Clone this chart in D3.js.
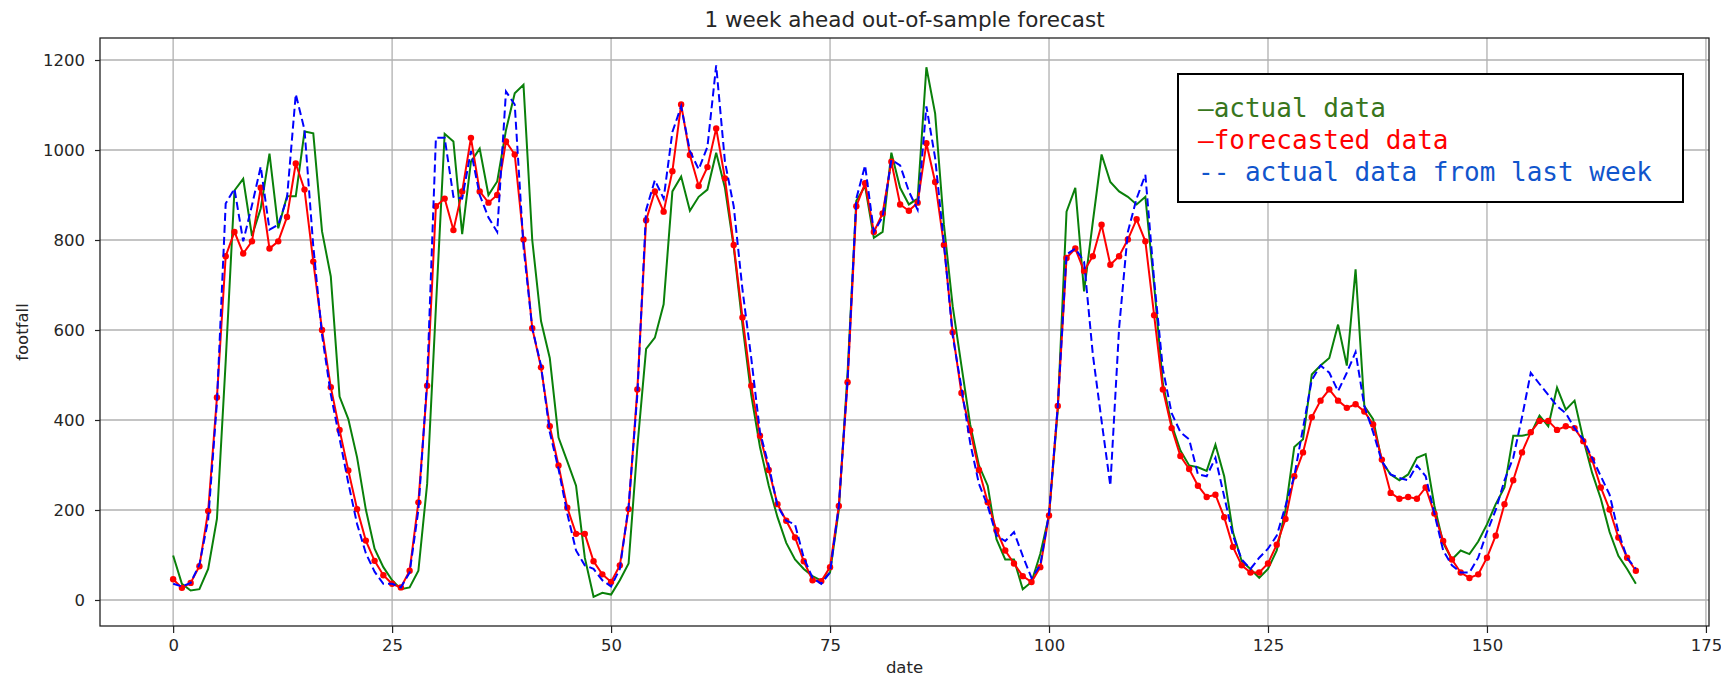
<!DOCTYPE html>
<html>
<head>
<meta charset="utf-8">
<script src="https://cdn.jsdelivr.net/npm/d3@7"></script>
<style>
  body { margin: 0; background: #fff; }
  text { font-family: "DejaVu Sans", sans-serif; }
</style>
</head>
<body>
<svg id="chart"></svg>
<script>
// Values, one per hour (0..167)
const actualData = [99, 36, 21, 24, 69, 180, 530, 910, 936, 809, 870, 992, 826, 897, 897, 1041, 1037, 819, 719, 452,
  402, 317, 201, 114, 73, 44, 24, 28, 65, 258, 650, 1036, 1019, 813, 974, 1003, 900, 930, 1044, 1126,
  1145, 800, 620, 538, 361, 308, 254, 94, 7, 16, 12, 44, 81, 340, 558, 583, 657, 908, 941, 865,
  896, 912, 994, 916, 785, 612, 456, 340, 254, 184, 127, 90, 69, 53, 43, 61, 200, 505, 887, 920,
  805, 818, 994, 916, 879, 892, 1184, 1081, 834, 653, 521, 390, 299, 254, 135, 90, 90, 24, 40, 102,
  188, 423, 863, 916, 686, 840, 990, 929, 908, 896, 879, 896, 700, 480, 390, 332, 299, 295, 287, 345,
  275, 151, 86, 69, 49, 69, 110, 200, 340, 357, 501, 521, 538, 612, 521, 735, 431, 402, 308, 279,
  266, 279, 316, 324, 209, 127, 90, 110, 102, 130, 168, 213, 250, 365, 365, 369, 410, 386, 472, 423,
  443, 357, 283, 225, 151, 98, 69, 36];

const forecastData = [46, 27, 38, 75, 198, 450, 764, 818, 770, 797, 916, 781, 797, 851, 970, 912, 752, 600, 473, 378,
  288, 202, 132, 87, 55, 36, 28, 65, 217, 476, 875, 892, 822, 908, 1027, 908, 883, 900, 1019, 990,
  801, 604, 517, 386, 299, 205, 147, 147, 86, 57, 40, 77, 202, 468, 844, 908, 863, 953, 1101, 989,
  920, 962, 1048, 937, 789, 628, 476, 365, 289, 213, 176, 139, 86, 44, 42, 73, 209, 484, 875, 926,
  818, 859, 974, 879, 865, 883, 1015, 929, 789, 595, 460, 377, 289, 217, 155, 110, 81, 53, 40, 73,
  188, 431, 760, 781, 731, 764, 834, 745, 764, 801, 846, 797, 633, 468, 382, 320, 291, 254, 229, 234,
  184, 118, 77, 61, 61, 81, 123, 180, 275, 328, 406, 443, 468, 443, 427, 435, 419, 390, 312, 238,
  225, 229, 225, 250, 192, 131, 90, 61, 49, 57, 94, 143, 213, 266, 328, 373, 398, 398, 378, 386,
  382, 353, 312, 250, 201, 139, 94, 65];

const lastWeekData = [36, 30, 38, 79, 178, 439, 881, 914, 797, 877, 963, 823, 834, 893, 1124, 1045, 786, 589, 457, 359,
  260, 169, 104, 63, 36, 36, 28, 61, 200, 489, 1027, 1027, 896, 892, 998, 900, 850, 818, 1130, 1101,
  785, 604, 521, 373, 291, 192, 110, 77, 69, 44, 30, 69, 209, 456, 867, 933, 892, 1040, 1097, 998,
  957, 1007, 1188, 974, 875, 690, 538, 373, 299, 209, 176, 168, 94, 49, 36, 61, 209, 489, 892, 966,
  818, 851, 978, 966, 908, 867, 1097, 982, 793, 587, 472, 349, 258, 209, 143, 131, 151, 98, 49, 77,
  192, 431, 768, 781, 752, 546, 398, 254, 604, 818, 892, 945, 711, 513, 415, 373, 357, 279, 275, 316,
  230, 143, 90, 69, 94, 114, 143, 209, 275, 382, 489, 521, 505, 464, 505, 551, 431, 373, 308, 279,
  271, 266, 299, 275, 192, 110, 77, 61, 61, 94, 151, 200, 266, 316, 406, 505, 480, 456, 431, 415,
  382, 357, 316, 275, 234, 151, 94, 69];

const xTicks = [0, 25, 50, 75, 100, 125, 150, 175];
const yTicks = [0, 200, 400, 600, 800, 1000, 1200];

const legendLabels = ["\u2014actual data", "\u2014forecasted data", "-- actual data from last week"];
const legendColors = ["#38761d", "#ff0000", "#1155cc"];

// Canvas and plot box
const CANVAS_WIDTH = 1721;
const CANVAS_HEIGHT = 679;
const PLOT = { left: 100, right: 1709, top: 38, bottom: 626 };

const svg = d3.select("#chart")
  .attr("width", CANVAS_WIDTH)
  .attr("height", CANVAS_HEIGHT);

svg.append("rect")
  .attr("width", CANVAS_WIDTH)
  .attr("height", CANVAS_HEIGHT)
  .attr("fill", "#fff");

const x = d3.scaleLinear().domain([-8.35, 175.35]).range([PLOT.left, PLOT.right]);
const y = d3.scaleLinear().domain([-57.8, 1248.9]).range([PLOT.bottom, PLOT.top]);

// grid lines
svg.append("g")
  .selectAll("line.vgrid")
  .data(xTicks)
  .enter()
  .append("line")
  .attr("x1", (d) => x(d)).attr("x2", (d) => x(d))
  .attr("y1", PLOT.top).attr("y2", PLOT.bottom)
  .attr("stroke", "#b0b0b0")
  .attr("stroke-width", 1.3);

svg.append("g")
  .selectAll("line.hgrid")
  .data(yTicks)
  .enter()
  .append("line")
  .attr("x1", PLOT.left).attr("x2", PLOT.right)
  .attr("y1", (d) => y(d)).attr("y2", (d) => y(d))
  .attr("stroke", "#b0b0b0")
  .attr("stroke-width", 1.3);

// axes, plain integer labels (no thousands comma)
const xAxis = svg.append("g")
  .attr("transform", `translate(0,${PLOT.bottom})`)
  .call(d3.axisBottom(x).tickValues(xTicks).tickFormat(d3.format("d")).tickSize(7).tickPadding(6));

const yAxis = svg.append("g")
  .attr("transform", `translate(${PLOT.left},0)`)
  .call(d3.axisLeft(y).tickValues(yTicks).tickFormat(d3.format("d")).tickSize(5).tickPadding(10));

[xAxis, yAxis].forEach((ax) => {
  ax.select(".domain").remove();
  ax.selectAll("line").attr("stroke", "#222").attr("stroke-width", 1.2);
  ax.selectAll("text")
    .style("font-family", "DejaVu Sans, sans-serif")
    .style("font-size", "16.5px")
    .attr("fill", "#262626");
});

// the plot frame
svg.append("rect")
  .attr("x", PLOT.left)
  .attr("y", PLOT.top)
  .attr("width", PLOT.right - PLOT.left)
  .attr("height", PLOT.bottom - PLOT.top)
  .attr("fill", "none")
  .attr("stroke", "#222")
  .attr("stroke-width", 1.3);

const line = d3.line()
  .x((d, i) => x(i))
  .y((d) => y(d));

// actual data
svg.append("path")
  .datum(actualData)
  .attr("d", line)
  .attr("fill", "none")
  .attr("stroke", "#0a800a")
  .attr("stroke-width", 2);

// forecast with dots
svg.append("path")
  .datum(forecastData)
  .attr("d", line)
  .attr("fill", "none")
  .attr("stroke", "#ff0000")
  .attr("stroke-width", 2);

svg.append("g")
  .selectAll("circle")
  .data(forecastData)
  .enter()
  .append("circle")
  .attr("cx", (d, i) => x(i))
  .attr("cy", (d) => y(d))
  .attr("r", 3.2)
  .attr("fill", "#ff0000");

// actual data from last week, dashed
svg.append("path")
  .datum(lastWeekData)
  .attr("d", line)
  .attr("fill", "none")
  .attr("stroke", "#0000ff")
  .attr("stroke-width", 2)
  .attr("stroke-dasharray", "8,4");

// title and axis labels
svg.append("text")
  .text("1 week ahead out-of-sample forecast")
  .attr("x", (PLOT.left + PLOT.right) / 2)
  .attr("y", 27)
  .attr("text-anchor", "middle")
  .style("font-size", "21.5px")
  .attr("fill", "#262626");

svg.append("text")
  .text("date")
  .attr("x", (PLOT.left + PLOT.right) / 2)
  .attr("y", 673)
  .attr("text-anchor", "middle")
  .style("font-size", "16.5px")
  .attr("fill", "#262626");

svg.append("text")
  .text("footfall")
  .attr("transform", `translate(28,${(PLOT.top + PLOT.bottom) / 2}) rotate(-90)`)
  .attr("text-anchor", "middle")
  .style("font-size", "16.5px")
  .attr("fill", "#262626");

// legend box
const legend = svg.append("g");
legend.append("rect")
  .attr("x", 1178)
  .attr("y", 74)
  .attr("width", 505)
  .attr("height", 128)
  .attr("fill", "#fff")
  .attr("stroke", "#000")
  .attr("stroke-width", 2);

legend.selectAll("text")
  .data(legendLabels)
  .enter()
  .append("text")
  .text((d) => d)
  .attr("x", 1198)
  .attr("y", (d, i) => 117 + i * 32)
  .attr("fill", (d, i) => legendColors[i])
  .style("font-family", "DejaVu Sans Mono, monospace")
  .style("font-size", "26px")
  .style("white-space", "pre");
</script>
</body>
</html>
